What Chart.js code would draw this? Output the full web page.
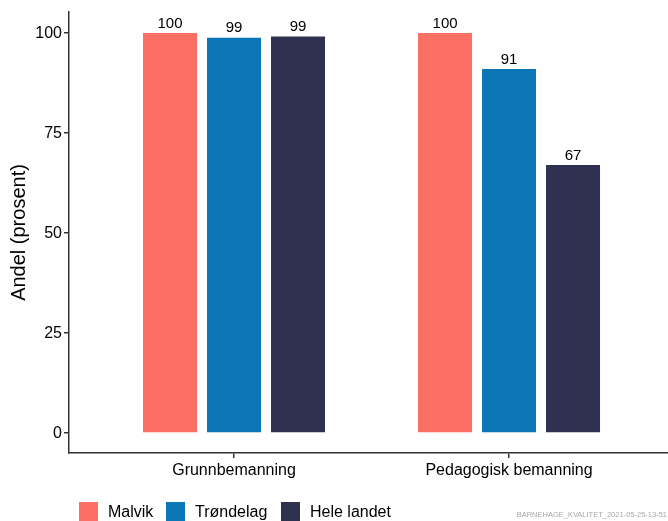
<!DOCTYPE html>
<html>
<head>
<meta charset="utf-8">
<script src="https://cdn.jsdelivr.net/npm/chart.js@4"></script>
<style>
  body { margin: 0; background: #fff; font-family: "Liberation Sans", Arial, sans-serif; }
  #wrap { position: relative; width: 668px; height: 521px; overflow: hidden; }
  .leg { position: absolute; top: 502px; display: flex; align-items: center; font-size: 16px; color: #000; }
  .leg span.box { width: 19px; height: 19px; display: inline-block; margin-right: 10px; }
  #stamp { position: absolute; right: 1px; top: 510px; font-size: 7.5px; color: #a8a8a8; }
</style>
</head>
<body>
<div id="wrap">
  <canvas id="chart" width="668" height="521"></canvas>
  <div class="leg" style="left:79px"><span class="box" style="background:#fc6f64"></span>Malvik</div>
  <div class="leg" style="left:166px"><span class="box" style="background:#0b76b5"></span>Trøndelag</div>
  <div class="leg" style="left:281px"><span class="box" style="background:#2e3150"></span>Hele landet</div>
  <div id="stamp">BARNEHAGE_KVALITET_2021-05-25-13-51</div>
</div>
<script>
// data
const categories = ['Grunnbemanning', 'Pedagogisk bemanning'];
const seriesNames = ['Malvik', 'Trøndelag', 'Hele landet'];
const malvik = [100, 100];
const trondelag = [98.8, 91];
const heleLandet = [99.1, 67];
const yTicks = [0, 25, 50, 75, 100];
const colors = ['#fc6f64', '#0b76b5', '#2e3150'];

const axisColor = '#333333';
const font = { family: '"Liberation Sans", Arial, sans-serif', size: 16 };

function toPoints(arr) {
    return arr.map((v, i) => ({ x: i + 1, y: v }));
}

// value labels above bars
const barLabels = {
    id: 'barLabels',
    afterDatasetsDraw(chart) {
        const ctx = chart.ctx;
        ctx.save();
        ctx.fillStyle = '#000';
        ctx.font = '15px "Liberation Sans", Arial, sans-serif';
        ctx.textAlign = 'center';
        ctx.textBaseline = 'bottom';
        chart.data.datasets.forEach((ds, di) => {
            chart.getDatasetMeta(di).data.forEach((bar, i) => {
                ctx.fillText(Math.round(ds.data[i].y), bar.x, bar.y - 2);
            });
        });
        ctx.restore();
    }
};

const allSeries = [malvik, trondelag, heleLandet];

new Chart(document.getElementById('chart').getContext('2d'), {
    type: 'bar',
    data: {
        datasets: allSeries.map((s, i) => ({
            label: seriesNames[i],
            data: toPoints(s),
            backgroundColor: colors[i],
            borderWidth: 0,
            categoryPercentage: 0.698,
            barPercentage: 0.844
        }))
    },
    options: {
        responsive: false,
        animation: false,
        layout: { padding: { top: 12, left: 0, right: 0, bottom: 0 } },
        plugins: { legend: { display: false }, tooltip: { enabled: false } },
        scales: {
            x: {
                type: 'linear',
                min: 0.4,
                max: 2.578,
                offset: false,
                grid: { display: true, offset: false, drawOnChartArea: false, drawTicks: true, tickLength: 5, color: axisColor, lineWidth: 1.5 },
                border: { display: true, color: axisColor, width: 1.5 },
                afterBuildTicks: scale => { scale.ticks = categories.map((c, i) => ({ value: i + 1 })); },
                afterFit: scale => { scale.height = 68; },
                ticks: {
                    color: '#000',
                    font: font,
                    padding: 3,
                    maxRotation: 0,
                    autoSkip: false,
                    callback: v => categories[v - 1]
                }
            },
            y: {
                min: -5,
                max: 105.25,
                grid: { display: true, drawOnChartArea: false, drawTicks: true, tickLength: 5, color: axisColor, lineWidth: 1.5 },
                border: { display: true, color: axisColor, width: 1.5 },
                afterBuildTicks: scale => { scale.ticks = yTicks.map(v => ({ value: v })); },
                afterFit: scale => { scale.width = 69; },
                ticks: { color: '#000', font: font, padding: 2, labelOffset: 1 },
                title: {
                    display: true,
                    text: 'Andel (prosent)',
                    color: '#000',
                    font: { family: font.family, size: 20 },
                    padding: { top: 7, bottom: 0 }
                }
            }
        }
    },
    plugins: [barLabels]
});
</script>
</body>
</html>
